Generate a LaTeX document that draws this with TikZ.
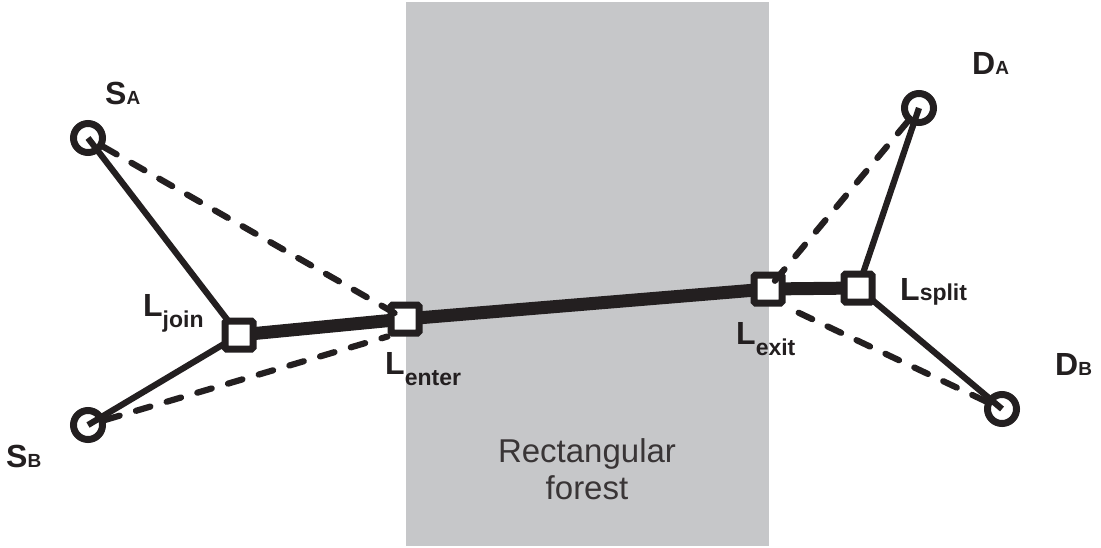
\documentclass[tikz,border=0pt]{standalone}
\usepackage{fontspec}
\setmainfont{Liberation Sans}
\definecolor{ink}{RGB}{35,31,32}
\definecolor{forestgray}{RGB}{198,199,201}
\pgfdeclarelayer{bglow}
\pgfdeclarelayer{bglines}
\pgfsetlayers{bglow,bglines,main}
\tikzset{
  endpt/.style={circle, draw=ink, line width=7pt, minimum size=29pt, inner sep=0pt},
  relay/.style={rectangle, draw=ink, fill=white, line width=7pt, minimum size=28pt, inner sep=0pt, rounded corners=1.5pt},
  thinlink/.style={draw=ink, line width=6.2pt},
  dashlink/.style={draw=ink, line width=6.2pt, line cap=round, dash pattern=on 15pt off 17pt},
  trunk/.style={draw=ink, line width=13pt},
  lab/.style={anchor=base west, inner sep=0pt, text=ink, font=\bfseries\fontsize{32}{32}\selectfont},
}
\newcommand{\subl}[1]{\raisebox{-11pt}{\fontsize{23}{23}\selectfont #1}}
\newcommand{\subs}[1]{{\fontsize{19}{19}\selectfont #1}}
\begin{document}
\begin{tikzpicture}[x=1pt,y=-1pt]
\useasboundingbox (0,0) rectangle (1101,547);
\begin{pgfonlayer}{bglow}
  \fill[forestgray] (406,2) rectangle (769,546);
\end{pgfonlayer}
\node[anchor=base, align=center, text=ink!90, font=\fontsize{33}{37}\selectfont] (forestlab) at (587,499) {Rectangular\\forest};

% end points
\node[endpt] (SA) at (88,138) {};
\node[endpt] (SB) at (88,425) {};
\node[endpt] (DA) at (919,108) {};
\node[endpt] (DB) at (1002,409) {};

% relays
\node[relay] (Ljoin) at (239,335) {};
\node[relay] (Lenter) at (405,319) {};
\node[relay] (Lexit) at (768,289) {};
\node[relay] (Lsplit) at (858,288) {};

\begin{pgfonlayer}{bglines}
  \draw[thinlink] (SA.center) -- (Ljoin.center);
  \draw[thinlink] (SB.center) -- (Ljoin.center);
  \draw[thinlink] (DA.center) -- (Lsplit.center);
  \draw[thinlink] (DB.center) -- (Lsplit.center);
  \draw[trunk] (Ljoin.center) -- (Lenter.center);
  \draw[trunk] (Lenter.center) -- (Lexit.center);
  \draw[trunk] (Lexit.center) -- (Lsplit.center);
\end{pgfonlayer}

% dashed direct paths
\draw[dashlink] (SA) -- (Lenter.center);
\draw[dashlink] (SB) -- (Lenter.south west);
\draw[dashlink] (DA) -- (Lexit.center);
\draw[dashlink] (DB) -- (Lexit.south east);

% labels
\node[lab] (tSA) at (105,104) {S\subs{A}};
\node[lab] (tSB) at (6,467) {S\subs{B}};
\node[lab] (tDA) at (972,74) {D\subs{A}};
\node[lab] (tDB) at (1055,375) {D\subs{B}};
\node[lab] (tjoin) at (143,316) {L\subl{join}};
\node[lab] (tenter) at (385,374) {L\subl{enter}};
\node[lab] (texit) at (736,344) {L\subl{exit}};
\node[lab] (tsplit) at (900,300) {L{\fontsize{23}{23}\selectfont split}};
\end{tikzpicture}
\end{document}
